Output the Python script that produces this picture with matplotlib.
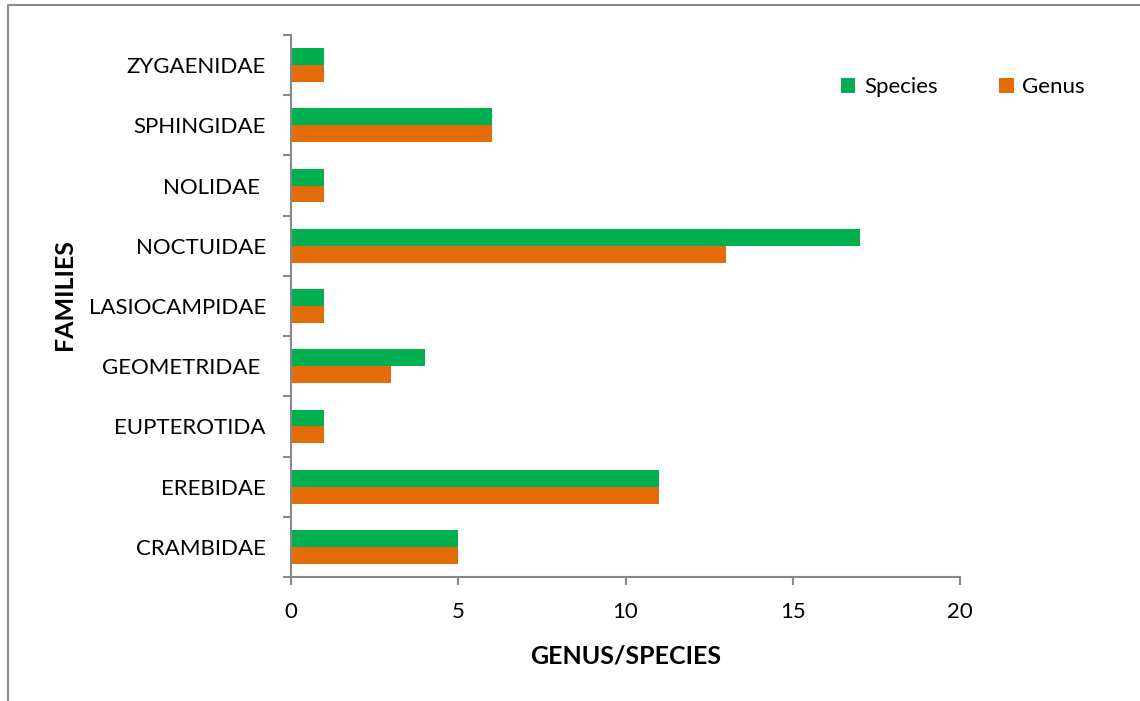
import matplotlib.pyplot as plt
import numpy as np
from matplotlib.lines import Line2D

families = ["CRAMBIDAE", "EREBIDAE", "EUPTEROTIDA", "GEOMETRIDAE ", "LASIOCAMPIDAE",
            "NOCTUIDAE", "NOLIDAE ", "SPHINGIDAE", "ZYGAENIDAE"]
species = [5, 11, 1, 4, 1, 17, 1, 6, 1]
genus = [5, 11, 1, 3, 1, 13, 1, 6, 1]

GREEN = "#00B050"
ORANGE = "#E36C09"
GRAY = "#898989"

plt.rcParams["font.family"] = ["Lato", "DejaVu Sans"]

fig = plt.figure(figsize=(11.4, 7.01), dpi=100)
ax = fig.add_axes([291 / 1140, 1 - 577 / 701, (960 - 291) / 1140, (577 - 35) / 701])

y = np.arange(len(families))
h = 0.28
ax.barh(y + h / 2, species, height=h, color=GREEN, label="Species")
ax.barh(y - h / 2, genus, height=h, color=ORANGE, label="Genus")

ax.set_xlim(0, 20)
ax.set_ylim(-0.5, len(families) - 0.5)
ax.set_xticks([0, 5, 10, 15, 20])
ax.set_yticks(y)
ax.set_yticklabels(families)
ax.set_yticks(np.arange(-0.5, len(families), 1), minor=True)
ax.tick_params(axis="y", which="major", length=0, pad=18, labelsize=16)
ax.tick_params(axis="y", which="minor", length=6, width=1.5, color=GRAY)
ax.tick_params(axis="x", length=6, width=1.5, color=GRAY, pad=12, labelsize=16)

for side in ["top", "right"]:
    ax.spines[side].set_visible(False)
for side in ["left", "bottom"]:
    ax.spines[side].set_color(GRAY)
    ax.spines[side].set_linewidth(1.5)

ax.set_xlabel("GENUS/SPECIES", fontsize=18, fontweight="bold", labelpad=16)
fig.text(65 / 1140, 1 - 295 / 701, "FAMILIES", rotation=90, fontsize=18,
         fontweight="bold", ha="center", va="center")

ax.legend(loc="center", bbox_to_anchor=(963 / 1140, 1 - 87 / 701),
          bbox_transform=fig.transFigure, ncol=2, frameon=False, fontsize=16,
          handlelength=0.65, handleheight=0.65, handletextpad=0.4, columnspacing=2.75)

fig.add_artist(Line2D([8 / 1140, 8 / 1140, 1.0], [0.0, 1 - 5 / 701, 1 - 5 / 701],
                      transform=fig.transFigure, color="#8c8c8c", linewidth=1.5))

fig.savefig("out.png", dpi=100)
